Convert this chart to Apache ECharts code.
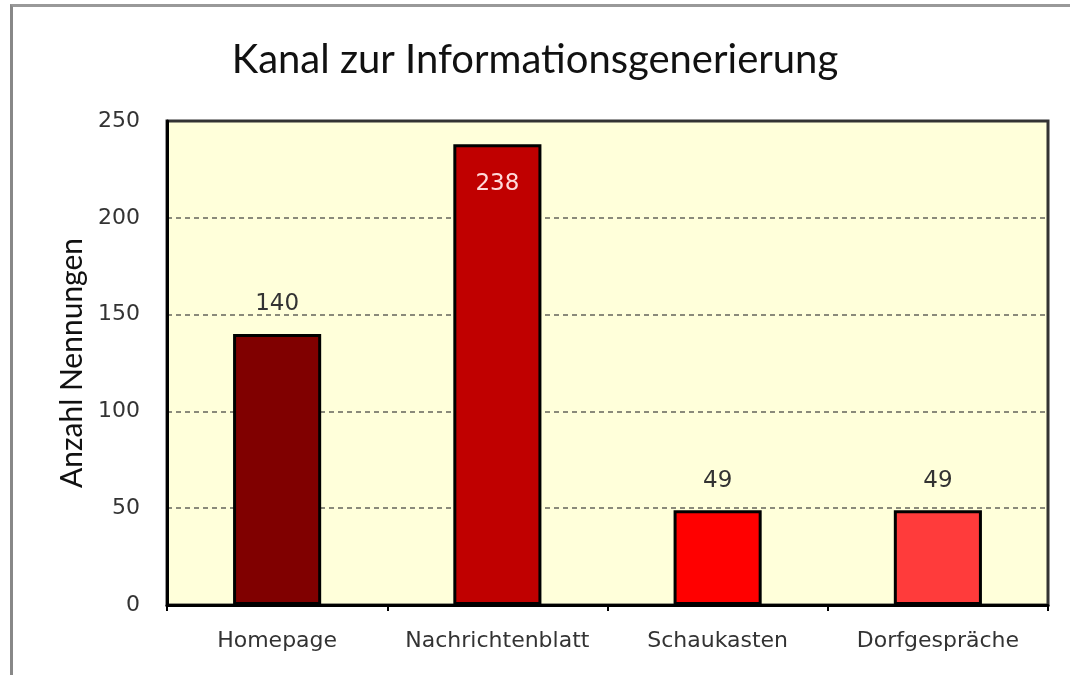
<!DOCTYPE html>
<html><head><meta charset="utf-8">
<script src="https://cdn.jsdelivr.net/npm/echarts@6/dist/echarts.min.js"></script>
<style>
html,body{margin:0;padding:0;background:#fff;}
#frame{position:absolute;left:10px;top:4px;width:1060px;height:671px;border-left:3px solid #888;border-top:3px solid #999;box-sizing:border-box;}
#c{position:absolute;left:0;top:0;width:1070px;height:675px;}
</style>
</head><body>
<div id="frame"></div>
<div id="c"></div>
<script>
const categories = ['Homepage', 'Nachrichtenblatt', 'Schaukasten', 'Dorfgespräche'];
const values = [140, 238, 49, 49];
const barColors = ['#800000', '#C00000', '#FF0000', '#FF3B3B'];
const labelPositions = ['top', 'insideTop', 'top', 'top'];
const labelColors = ['#333333', '#FFDADA', '#333333', '#333333'];
const yTicks = [0, 50, 100, 150, 200, 250];

const chart = echarts.init(document.getElementById('c'), null, {renderer: 'canvas'});
const fontA = 'Lato, "Open Sans", sans-serif';
const fontB = '"DejaVu Sans", Verdana, sans-serif';
chart.setOption({
  backgroundColor: 'transparent',
  animation: false,
  title: {
    text: 'Kanal zur Informationsgenerierung',
    left: 'center', top: 35,
    textStyle: {fontFamily: fontA, fontSize: 40, fontWeight: 'normal', color: '#111'}
  },
  grid: {left: 167, top: 121, width: 881, height: 484, show: true, backgroundColor: '#FFFFDA', borderColor: '#333', borderWidth: 3},
  xAxis: {
    type: 'category', data: categories,
    axisLine: {lineStyle: {color: '#000', width: 3}},
    axisTick: {show: true, interval: 0, alignWithLabel: false, length: 6, lineStyle: {color: '#000', width: 2}},
    axisLabel: {interval: 0, fontFamily: fontB, fontSize: 22, color: '#333', margin: 25, hideOverlap: false},
    splitLine: {show: false}
  },
  yAxis: {
    type: 'value', min: yTicks[0], max: yTicks[yTicks.length - 1], interval: 50,
    name: 'Anzahl Nennungen', nameLocation: 'middle', nameGap: 80, nameRotate: 90,
    nameTextStyle: {fontFamily: fontA, fontSize: 30, color: '#111'},
    axisLine: {show: true, lineStyle: {color: '#000', width: 3}},
    axisTick: {show: false},
    axisLabel: {fontFamily: fontB, fontSize: 22, color: '#333', margin: 27},
    splitLine: {show: true, showMinLine: false, showMaxLine: false, lineStyle: {color: '#8a8a7a', type: [5, 4], width: 2}}
  },
  series: [{
    type: 'bar', barWidth: '40%',
    data: values.map((v, i) => ({
      value: v,
      itemStyle: {color: barColors[i], borderColor: '#000', borderWidth: 3},
      label: {show: true, position: labelPositions[i], color: labelColors[i], distance: i === 1 ? 28 : 18}
    })),
    label: {fontFamily: fontB, fontSize: 23}
  }]
});
</script>
</body></html>
